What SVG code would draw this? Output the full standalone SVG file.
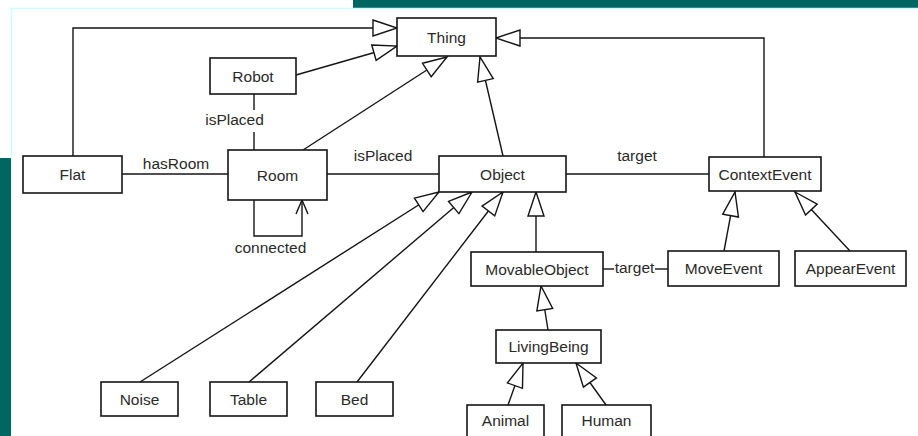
<svg xmlns="http://www.w3.org/2000/svg" width="918" height="436" viewBox="0 0 918 436">
  <style>
    .box { fill: #ffffff; stroke: #151515; stroke-width: 1.6; }
    .lbl { font-family: "Liberation Sans", Arial, sans-serif; font-size: 15.5px; fill: #2a2a2a; text-anchor: middle; }
    .edge { fill: none; stroke: #151515; stroke-width: 1.4; }
    .gen { marker-end: url(#hollow); }
  </style>
  <defs>
    <marker id="hollow" viewBox="0 0 24 16" refX="24" refY="8" markerWidth="24" markerHeight="16" markerUnits="userSpaceOnUse" orient="auto" overflow="visible">
      <path d="M0,0 L24,8 L0,16 Z" fill="#ffffff" stroke="#151515" stroke-width="1.4"/>
    </marker>
    <marker id="open" viewBox="0 0 14 12" refX="14" refY="6" markerWidth="14" markerHeight="12" markerUnits="userSpaceOnUse" orient="auto" overflow="visible">
      <path d="M0,0 L14,6 L0,12" fill="none" stroke="#151515" stroke-width="1.4"/>
    </marker>
  </defs>

  <!-- slide background -->
  <g id="background">
    <rect x="0" y="0" width="918" height="436" fill="#ffffff"/>
    <rect x="353" y="0" width="565" height="8" fill="#006662"/>
    <rect x="0" y="158" width="11" height="278" fill="#006662"/>
    <line x1="11" y1="8.5" x2="918" y2="8.5" stroke="#ccffff" stroke-width="1.5"/>
    <line x1="11.5" y1="8" x2="11.5" y2="158" stroke="#ccffff" stroke-width="1.5"/>
  </g>

  <!-- connectors -->
  <g id="connectors">
    <polyline class="edge gen" points="73,156 73,28 397,28"/>
    <line class="edge gen" x1="296" y1="75" x2="397" y2="46"/>
    <line class="edge gen" x1="303" y1="150" x2="447" y2="57"/>
    <line class="edge gen" x1="503" y1="156" x2="480" y2="57"/>
    <polyline class="edge gen" points="764,157 764,38 496,38"/>
    <line class="edge gen" x1="724" y1="251" x2="735" y2="192"/>
    <line class="edge gen" x1="850" y1="251" x2="795" y2="192"/>
    <line class="edge gen" x1="140" y1="382" x2="439" y2="192"/>
    <line class="edge gen" x1="249" y1="382" x2="472" y2="192"/>
    <line class="edge gen" x1="357" y1="382" x2="503" y2="192"/>
    <line class="edge gen" x1="536" y1="252" x2="536" y2="192"/>
    <line class="edge gen" x1="548" y1="330" x2="541" y2="286"/>
    <line class="edge gen" x1="508" y1="405" x2="523" y2="363"/>
    <line class="edge gen" x1="606" y1="405" x2="576" y2="363"/>

    <line class="edge" x1="122" y1="174" x2="228" y2="174"/>
    <text class="lbl" x="176" y="169">hasRoom</text>

    <line class="edge" x1="254" y1="94" x2="254" y2="110"/>
    <line class="edge" x1="254" y1="132" x2="254" y2="150"/>
    <text class="lbl" x="234.5" y="125">isPlaced</text>

    <line class="edge" x1="327" y1="174" x2="439" y2="174"/>
    <text class="lbl" x="383" y="161">isPlaced</text>

    <line class="edge" x1="566" y1="174" x2="709" y2="174"/>
    <text class="lbl" x="637" y="161">target</text>

    <polyline class="edge" points="254,200 254,236 302,236 302,200" marker-end="url(#open)"/>
    <text class="lbl" x="270.5" y="253">connected</text>

    <line class="edge" x1="603" y1="269" x2="614" y2="269"/>
    <line class="edge" x1="655" y1="269" x2="668" y2="269"/>
    <text class="lbl" x="634.5" y="273">target</text>
  </g>

  <!-- classes -->
  <g id="Thing"><rect class="box" x="397" y="18" width="99" height="38"/><text class="lbl" x="446.5" y="42.5">Thing</text></g>
  <g id="Robot"><rect class="box" x="210" y="58" width="86" height="36"/><text class="lbl" x="253" y="81.5">Robot</text></g>
  <g id="Flat"><rect class="box" x="23" y="156" width="99" height="37"/><text class="lbl" x="72.5" y="180">Flat</text></g>
  <g id="Room"><rect class="box" x="228" y="150" width="99" height="50"/><text class="lbl" x="277.5" y="180.5">Room</text></g>
  <g id="Object"><rect class="box" x="439" y="156" width="127" height="36"/><text class="lbl" x="502.5" y="179.5">Object</text></g>
  <g id="ContextEvent"><rect class="box" x="709" y="157" width="112" height="34"/><text class="lbl" x="765" y="179.5">ContextEvent</text></g>
  <g id="MovableObject"><rect class="box" x="471" y="252" width="132" height="34"/><text class="lbl" x="537" y="274.5">MovableObject</text></g>
  <g id="MoveEvent"><rect class="box" x="668" y="251" width="111" height="35"/><text class="lbl" x="723.5" y="274">MoveEvent</text></g>
  <g id="AppearEvent"><rect class="box" x="795" y="251" width="111" height="35"/><text class="lbl" x="850.5" y="274">AppearEvent</text></g>
  <g id="LivingBeing"><rect class="box" x="496" y="330" width="105" height="33"/><text class="lbl" x="548.5" y="352">LivingBeing</text></g>
  <g id="Animal"><rect class="box" x="467" y="405" width="77" height="36"/><text class="lbl" x="505.5" y="425.5">Animal</text></g>
  <g id="Human"><rect class="box" x="562" y="405" width="89" height="36"/><text class="lbl" x="606.5" y="425.5">Human</text></g>
  <g id="Noise"><rect class="box" x="101" y="382" width="77" height="34"/><text class="lbl" x="139.5" y="404.5">Noise</text></g>
  <g id="Table"><rect class="box" x="210" y="382" width="77" height="34"/><text class="lbl" x="248.5" y="404.5">Table</text></g>
  <g id="Bed"><rect class="box" x="316" y="382" width="77" height="34"/><text class="lbl" x="354.5" y="404.5">Bed</text></g>
</svg>
